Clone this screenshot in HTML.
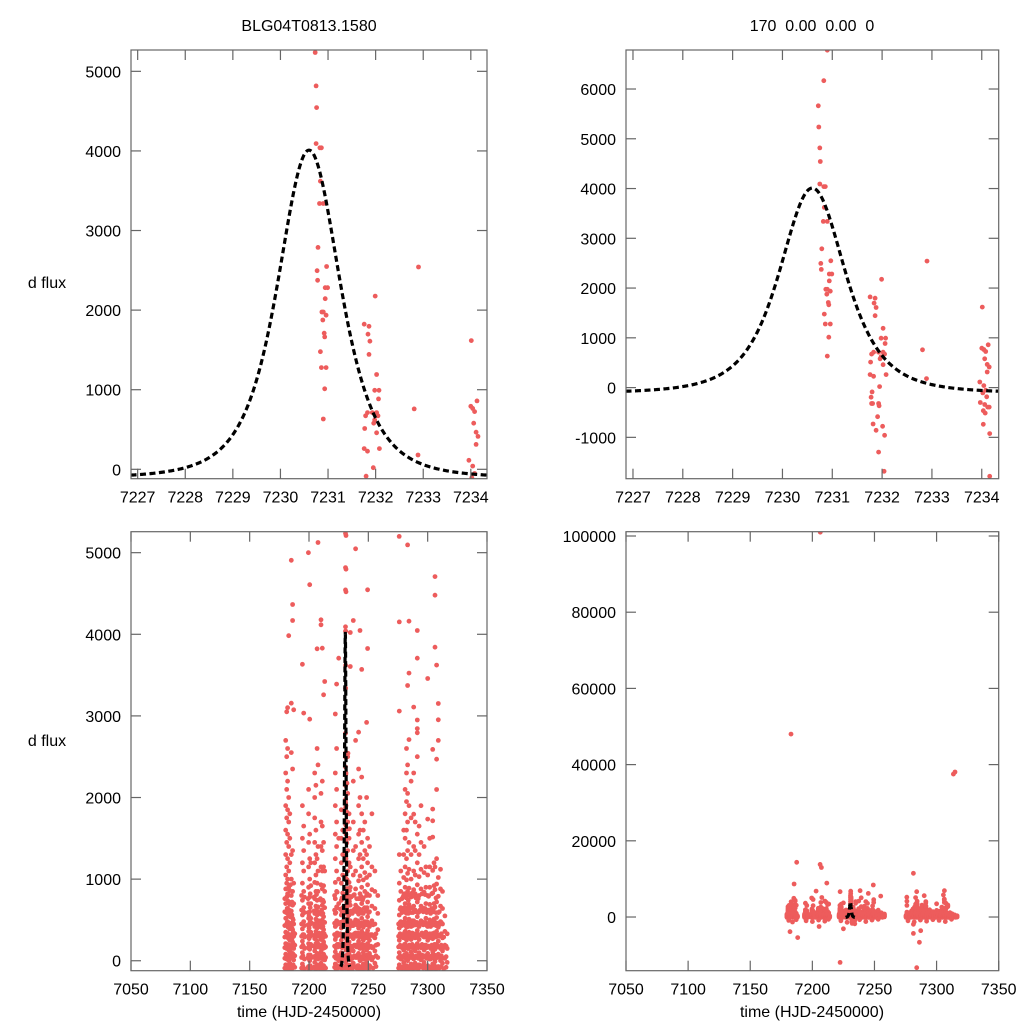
<!DOCTYPE html>
<html><head><meta charset="utf-8"><style>
html,body{margin:0;padding:0;background:#fff;width:1024px;height:1024px;overflow:hidden;}
svg{display:block;font-family:"Liberation Sans",Arial,sans-serif;}
</style></head><body>
<svg id="fig" width="1024" height="1024" viewBox="0 0 1024 1024" xmlns="http://www.w3.org/2000/svg">
<rect width="1024" height="1024" fill="#fff"/>
<text x="309" y="31" font-size="16" text-anchor="middle">BLG04T0813.1580</text>
<text x="812" y="31" font-size="16" text-anchor="middle" xml:space="preserve">170  0.00  0.00  0</text>
<text x="47" y="288" font-size="16" text-anchor="middle">d flux</text>
<text x="47" y="746" font-size="16" text-anchor="middle">d flux</text>
<text x="309" y="1017" font-size="16" text-anchor="middle">time (HJD-2450000)</text>
<text x="812" y="1017" font-size="16" text-anchor="middle">time (HJD-2450000)</text>
</svg>
<script>
// ---- zoomed light-curve data (time, flux)
const zoomT = [7230.90,7230.83,7230.72,7230.73,7230.75,7230.76,7230.75,7230.83,7230.86,7230.84,7230.82,7230.90,7230.79,7230.77,7230.78,7230.97,7230.99,7230.94,7230.94,7230.87,7230.90,7230.96,7230.89,7230.92,7230.93,7230.84,7230.86,7230.96,7230.93,7230.90,
7231.76,7231.86,7231.84,7231.88,7231.86,7231.99,7232.02,7231.98,7232.07,7232.06,7231.83,7231.79,7231.93,7232.02,7232.05,7231.98,7231.77,7231.96,7232.02,7232.08,7231.76,7231.83,7231.95,7231.80,7231.78,7231.79,7231.81,7231.93,7231.94,7231.91,7231.82,7232.01,7231.88,7232.05,7231.93,7232.04,
7232.90,7232.81,7232.89,
7234.01,7234.00,7234.04,7234.08,7234.13,7234.06,7234.11,7234.15,7234.11,7233.96,7234.04,7234.08,7234.02,7234.10,7233.97,7234.06,7234.12,7234.15,7234.03,7234.07,7234.03,7234.16,7234.16];
const zoomF = [6780,6168,5662,5236,4817,4544,4092,4039,4039,3620,3340,3340,2788,2495,2375,2548,2282,2282,2143,1976,1976,1936,1876,1710,1664,1477,1278,1278,1012,632,
1823,1797,1697,1610,1444,2176,1191,992,992,885,712,672,712,712,672,619,513,579,459,260,260,227,20,-86,-193,-319,-319,-319,-366,-585,-732,-778,-858,-958,-1297,-1683,
2542,759,180,
1617,792,765,725,859,579,466,413,313,113,40,-53,-106,-186,-299,-339,-392,-392,-465,-512,-738,-925,-1783];

// ---- full season: nightly times and flux values per night
const nightT = [7180.4,7181.2,7182.0,7182.9,7183.8,7185.1,7186.2,7187.1,7194.4,7195.5,7199.7,7200.6,7201.5,7204.8,7205.8,7206.8,7207.6,7210.1,7211.2,7212.3,7213.2,
7222.2,7223.3,7225.0,7227.2,7228.4,7231.2,7232.6,7233.8,7234.8,7237.3,7239.3,7241.8,7243.0,7244.4,7245.8,7247.0,7248.5,7249.4,7251.0,7253.0,7255.5,7258.0,
7276.1,7277.4,7279.8,7281.0,7282.2,7283.1,7284.3,7286.0,7288.2,7289.5,7291.3,7292.8,7294.4,7297.0,7298.5,7300.0,7301.7,7304.2,7305.3,7306.2,7307.5,7309.0,7310.8,7312.5,7314.5,7316.5];
const nightF = [
[-50,80,210,350,520,700,880,1050,1300,1600,1900,2300,2700],
[20,150,300,450,600,780,950,1150,1450,1750,2100,2500,3050],
[-80,60,190,330,480,640,820,1000,1250,1550,1850,2200,2600,3100],
[0,130,270,420,560,720,900,1100,1400,1700,2000,3983],
[-30,110,250,390,540,690,860,1200,1500,1800],
[40,180,320,460,610,800,1000,1300,2550,3156,4906],
[-60,90,230,380,520,680,850,1350,2350,4169,4365],
[10,150,300,450,700,950,3075],
[-40,100,240,390,560,740,950,1200,1500,1900,3632],
[30,170,320,480,650,850,1100,1350,1650,3034],
[-70,70,210,360,520,700,900,1150,1450,1800,2100],
[0,140,290,440,600,780,1000,1250,1550,2960,4607],
[50,200,350,520,700,920,1200],
[-20,120,270,420,580,760,960,1200,1450,1750,2000,2300],
[60,210,360,510,670,850,1050,1300,1600,2150],
[-50,90,240,400,560,740,950,1250,2600,3822],
[20,170,330,490,660,850,1100,1400,2400,5125],
[-30,110,260,410,570,740,930,1150,1400,1700,2050,4116,4177],
[40,190,340,500,680,880,1100,1350,1650,2200,3830],
[-60,80,230,380,540,720,920,1150,1450,3258],
[10,160,310,470,650,850,1100,3422],
[-40,110,260,420,580,760,960,1250,1550,1900,2300,3023],
[30,180,330,490,660,850,1100,1400,1700,2100,2600,3390],
[0,200,450,700,1000,1500,3707],
[-50,100,250,400,560,740,950,1200,1500,1850],
[20,170,320,480,650,830,1050,1300,1600],
[-20,130,280,440,600,780,990,1250,1550,1900,2300,4520,4798,5210],
[60,210,360,520,690,880,1100,1350,1700,2050,2500],
[-70,80,230,390,560,750,960,1200,1500,1800],
[10,160,320,490,680,900,1150,3605,4022],
[-30,120,270,430,600,800,1050,1350,1700,2200,4169],
[40,190,340,500,680,880,1100,1400,2700,5047],
[-60,90,240,400,570,760,980,1250,1550,1900,2350,2800],
[0,150,300,460,630,820,1040,1300,1600,2000,4046],
[50,200,360,520,700,900,1150,1450,1800,2250,3570],
[-40,100,250,410,580,770,990,1250,1600],
[20,170,320,480,650,850,1080,1350,1700],
[-20,130,280,440,610,800,1020,1300,2000,2920],
[60,210,370,540,720,930,1200,1500,3826,4545],
[-60,90,250,420,600,800,1050,1400],
[10,160,320,490,670,870,1150,1800],
[-30,120,280,450,640,850,1100],
[40,200,380,580,800],
[-50,100,250,400,560,740,950,1300,3059,4152],
[20,170,320,480,650,850,1100],
[-20,130,280,440,610,800,1020,1300,1600],
[50,200,360,520,700,900,1150,1500,1800,2100],
[-60,90,250,410,580,770,990,1250,1600,1950,2300,2600],
[0,150,310,470,650,850,1070,1350,1700,2050,2400,3373,5095],
[40,190,350,510,690,890,1120,1450,1900,2710,3524,4160],
[-40,110,260,420,590,780,1000,1300,1750,2200],
[20,170,330,490,670,870,1100,1400,1795,2300,3108],
[-30,120,280,440,620,820,1050,1350,1700],
[60,210,370,540,720,930,1200,1550,2500,2793,2845,2950,3707,4046],
[-50,100,260,420,600,800,1030,1300,1650],
[10,160,320,490,670,880,1120,1450,1900],
[-20,130,290,460,640,840,1080,1400],
[40,190,350,520,700,900,1150],
[-60,90,250,420,600,800,1050,1735,3458],
[20,170,330,500,690,900,1150,1500],
[-40,110,270,440,620,830,1107,1515,1715,1858,2590],
[30,180,340,510,700,920,1200],
[-10,140,300,470,660,870,1150,3842,4479,4707],
[50,200,360,530,720,940,1250,2098,2470,3622],
[-70,80,240,410,590,790,1020,2700,2952,3152],
[0,150,310,480,670,880,1120],
[-30,120,280,450,640,850],
[30,190,360,550],
[-20,150,330]];
// additional low-flux nightly observations (dense baseline)
const lowT = [7179.6,7180.8,7181.6,7182.4,7183.3,7184.4,7185.6,7186.7,7188.0,7193.8,7194.9,7196.2,7199.2,7200.1,7201.0,7202.2,7204.2,7205.3,7206.3,7207.2,7208.3,7209.6,7210.6,7211.7,7212.8,7214.0,
7221.6,7222.7,7223.8,7224.4,7226.5,7227.8,7229.0,7230.4,7232.0,7233.2,7235.5,7236.5,7238.2,7240.2,7241.0,7242.4,7243.7,7245.1,7246.4,7247.7,7249.0,7250.2,7252.0,7254.0,7256.5,
7275.5,7276.8,7278.4,7279.2,7280.4,7281.6,7282.8,7283.7,7284.9,7285.4,7287.0,7287.6,7288.8,7290.2,7290.8,7292.0,7293.5,7295.2,7296.2,7297.8,7299.2,7300.8,7302.5,7303.4,7304.8,7305.8,7307.0,7308.2,7309.8,7311.5,7313.5,7315.5];
const lowF = [
[-90,30,160,290,430,600,760],[-100,40,170,300,440,590],[-70,60,200,340,470,640,790],[-110,20,150,280,410,570,730],[-60,70,190,320,460,620],[-80,50,180,310,450,610,930],[-100,30,150,270,400,560,720],[-50,80,210,350,500],[-80,60,190,330],
[-90,40,170,300,450,620,800],[-70,60,190,320,460,610],[-100,20,150,290,430,590,780],
[-80,40,160,300,440,590,760],[-110,20,150,270,400,550],[-60,70,200,330,480,650,820],[-90,40,180,310,460],
[-80,50,180,310,450,610,780],[-100,30,160,290,430,580],[-70,60,190,330,470,630,810],[-90,40,170,300,440,600],[-60,70,200,340,490],[-100,30,160,290,430,590,760],[-80,50,180,320,460,620],[-110,20,150,280,420,580,740],[-70,60,190,330,470],[-90,40,170,300],
[-80,50,180,320,460,620,800],[-100,30,160,290,430,590],[-60,70,200,340,480,650,840],[-90,40,170,310],[-80,60,190,330,470,630],[-100,30,160,300,440,600,770],[-70,60,190,320,460],[-90,40,170,310,450,610],[-60,70,200,340,490,650,820],[-100,30,160,290,430,590],
[-80,50,180,310,450,610,780],[-100,30,160,290,430,580],[-70,60,190,330,470,630,810],[-90,40,170,300,440,600,760],[-60,70,200,340,490,650],[-100,30,160,290,430,590,760],[-80,50,180,320,460,620,790],[-110,20,150,280,420,580,740],[-70,60,190,330,470,640],[-90,40,170,300,450,610],[-60,70,200,340,480,650,820],[-100,30,160,290,430,590],[-80,50,180,320,460],[-90,40,170,300,440],[-70,60,190,330],
[-90,40,170,300,450],[-70,60,190,330,470,630],[-100,30,160,290,430,590,760],[-80,50,180,310,450,610,780],[-60,70,200,340,480,650,820],[-100,30,160,290,430,590],[-80,50,180,320,460,620,800],[-110,20,150,280,420,580,740],[-70,60,190,330,470,640,810],[-90,40,170,300,440],[-60,70,200,340,490,650,830],[-100,30,160,290,430,590],[-80,50,180,320,460,620,790],[-90,40,170,300,440,600,770],[-70,60,190,330,470],[-100,30,160,290,430,590,760],[-80,50,180,320,460,620],[-60,70,200,340,480,650,820],[-90,40,170,300,440,600],[-70,60,190,330,470,640,810],[-100,30,160,290,430,590],[-80,50,180,320,460,620,790],[-110,20,150,280,420,580],[-70,60,190,330,470,640,820],[-90,40,170,300,440,600],[-60,70,200,340,480,650],[-100,30,160,290,430,590,770],[-80,50,180,320,460],[-90,40,170,300,440,600],[-70,60,190,330,470],[-100,30,160,290],[-80,50,180]];
// points outside the small-scale window (visible only in the wide view)
const extraT = [7206.4,7182.8,7314.8,7313.5,7187.4,7206.2,7207.3,7185.3,7211.6,7222.3,7249.1,7281.3,7306.3,7238.4,7199.5,7203.0,7276.0,7284.0,7290.0,7305.5,7245,7255,
7182.0,7188.2,7205.4,7225.0,7222.3,7281.3,7281.3,7287.2,7286.2,7284.0,
7181,7184,7187,7195,7200,7205,7210,7213,7223,7228,7233,7238,7243,7248,7253,7277,7282,7287,7292,7297,7302,7307,7312];
const extraF = [101000,48000,38060,37500,14360,13800,13000,8660,8900,6640,8400,11470,6900,6900,5000,6800,5200,6640,5600,5800,6200,5500,
-3850,-5400,-2500,-3100,-11900,-1900,-4290,-3600,-6640,-13300,
-900,-1300,-700,-1000,-1200,-800,-1100,-600,-1000,-1400,-900,-700,-1200,-800,-600,-1000,-1300,-800,-1100,-700,-900,-1200,-600];

// ---- microlensing model parameters
const modelT0 = [7230.6];
const modelAmp = [4120];
const modelWidth = [1.21];
const modelBase = [-110];
const modelT = [];
for (let t = 7226.85; t <= 7234.35; t += 0.02) modelT.push(t);

// ---- axes
const xTicksZoom = [7227,7228,7229,7230,7231,7232,7233,7234];
const xTicksWide = [7050,7100,7150,7200,7250,7300,7350];
const yTicksTL = [0,1000,2000,3000,4000,5000];
const yTicksTR = [-1000,0,1000,2000,3000,4000,5000,6000];
const yTicksBL = [0,1000,2000,3000,4000,5000];
const yTicksBR = [0,20000,40000,60000,80000,100000];

const NS = 'http://www.w3.org/2000/svg';
const svg = document.getElementById('fig');
function mk(tag, attrs, parent) {
  const e = document.createElementNS(NS, tag);
  for (const k in attrs) e.setAttribute(k, attrs[k]);
  (parent || svg).appendChild(e);
  return e;
}
function modelFlux(t) {
  const d = (t - modelT0[0]) / modelWidth[0];
  return modelBase[0] + modelAmp[0] / Math.pow(1 + d * d, 2);
}

const panels = [
  {name:'top-left', x0:131, x1:487, y0:50, y1:478.7, tmin:7226.86, tmax:7234.34, fmin:-118, fmax:5268, xt:xTicksZoom, yt:yTicksTL, wide:false},
  {name:'top-right', x0:626, x1:998.7, y0:50, y1:478.7, tmin:7226.86, tmax:7234.34, fmin:-1831, fmax:6784, xt:xTicksZoom, yt:yTicksTR, wide:false},
  {name:'bottom-left', x0:131, x1:487, y0:531.7, y1:970.7, tmin:7050, tmax:7350, fmin:-122, fmax:5257, xt:xTicksWide, yt:yTicksBL, wide:true},
  {name:'bottom-right', x0:626, x1:998.7, y0:531.7, y1:970.7, tmin:7050, tmax:7350, fmin:-14090, fmax:101130, xt:xTicksWide, yt:yTicksBR, wide:true}
];

panels.forEach((p, i) => {
  const g = mk('g', {});
  
  
  const X = t => p.x0 + (t - p.tmin) / (p.tmax - p.tmin) * (p.x1 - p.x0);
  const Y = f => p.y1 - (f - p.fmin) / (p.fmax - p.fmin) * (p.y1 - p.y0);
  const cp = mk('clipPath', {id: 'clip' + i}, g);
  mk('rect', {x: p.x0, y: p.y0, width: p.x1 - p.x0, height: p.y1 - p.y0}, cp);
  const marks = mk('g', {'clip-path': 'url(#clip' + i + ')'}, g);
  const pts = mk('g', {fill: '#ed5c5c'}, marks);
  
  
  const dot = (t, f) => {
    const c = mk('circle', {cx: X(t).toFixed(1), cy: Y(f).toFixed(1), r: 2.4}, pts);
    
    
  };
  if (!p.wide) {
    zoomT.forEach((t, k) => dot(t, zoomF[k]));
  } else {
    nightT.forEach((t, k) => nightF[k].forEach(f => dot(t, f)));
    lowT.forEach((t, k) => lowF[k].forEach(f => dot(t, f)));
    zoomT.forEach((t, k) => dot(t, zoomF[k]));
    extraT.forEach((t, k) => dot(t, extraF[k]));
  }
  const d = modelT.map((t, k) => (k ? 'L' : 'M') + X(t).toFixed(2) + ',' + Y(modelFlux(t)).toFixed(2)).join('');
  const ml = mk('path', {d: d, fill: 'none', stroke: '#000', 'stroke-width': 3.2, 'stroke-dasharray': '6,3.5'}, marks);
  
  
  const fr = mk('rect', {x: p.x0, y: p.y0, width: p.x1 - p.x0, height: p.y1 - p.y0, fill: 'none', stroke: '#666', 'stroke-width': 1.2}, g);
  
  
  const ax = mk('g', {stroke: '#666', 'stroke-width': 1.2}, g);
  
  
  const lab = mk('g', {'font-size': 16, fill: '#000'}, g);
  
  
  p.xt.forEach(t => {
    const x = X(t);
    mk('line', {x1: x, x2: x, y1: p.y1, y2: p.y1 - 10}, ax);
    mk('line', {x1: x, x2: x, y1: p.y0, y2: p.y0 + 10}, ax);
    const tx = mk('text', {x: x, y: p.y1 + 24, 'text-anchor': 'middle'}, lab);
    tx.textContent = t;
    
    
  });
  p.yt.forEach(f => {
    const y = Y(f);
    mk('line', {x1: p.x0, x2: p.x0 + 10, y1: y, y2: y}, ax);
    mk('line', {x1: p.x1, x2: p.x1 - 10, y1: y, y2: y}, ax);
    const ty = mk('text', {x: p.x0 - 10, y: y + 6, 'text-anchor': 'end'}, lab);
    ty.textContent = f;
    
    
  });
});
</script>
</body></html>
